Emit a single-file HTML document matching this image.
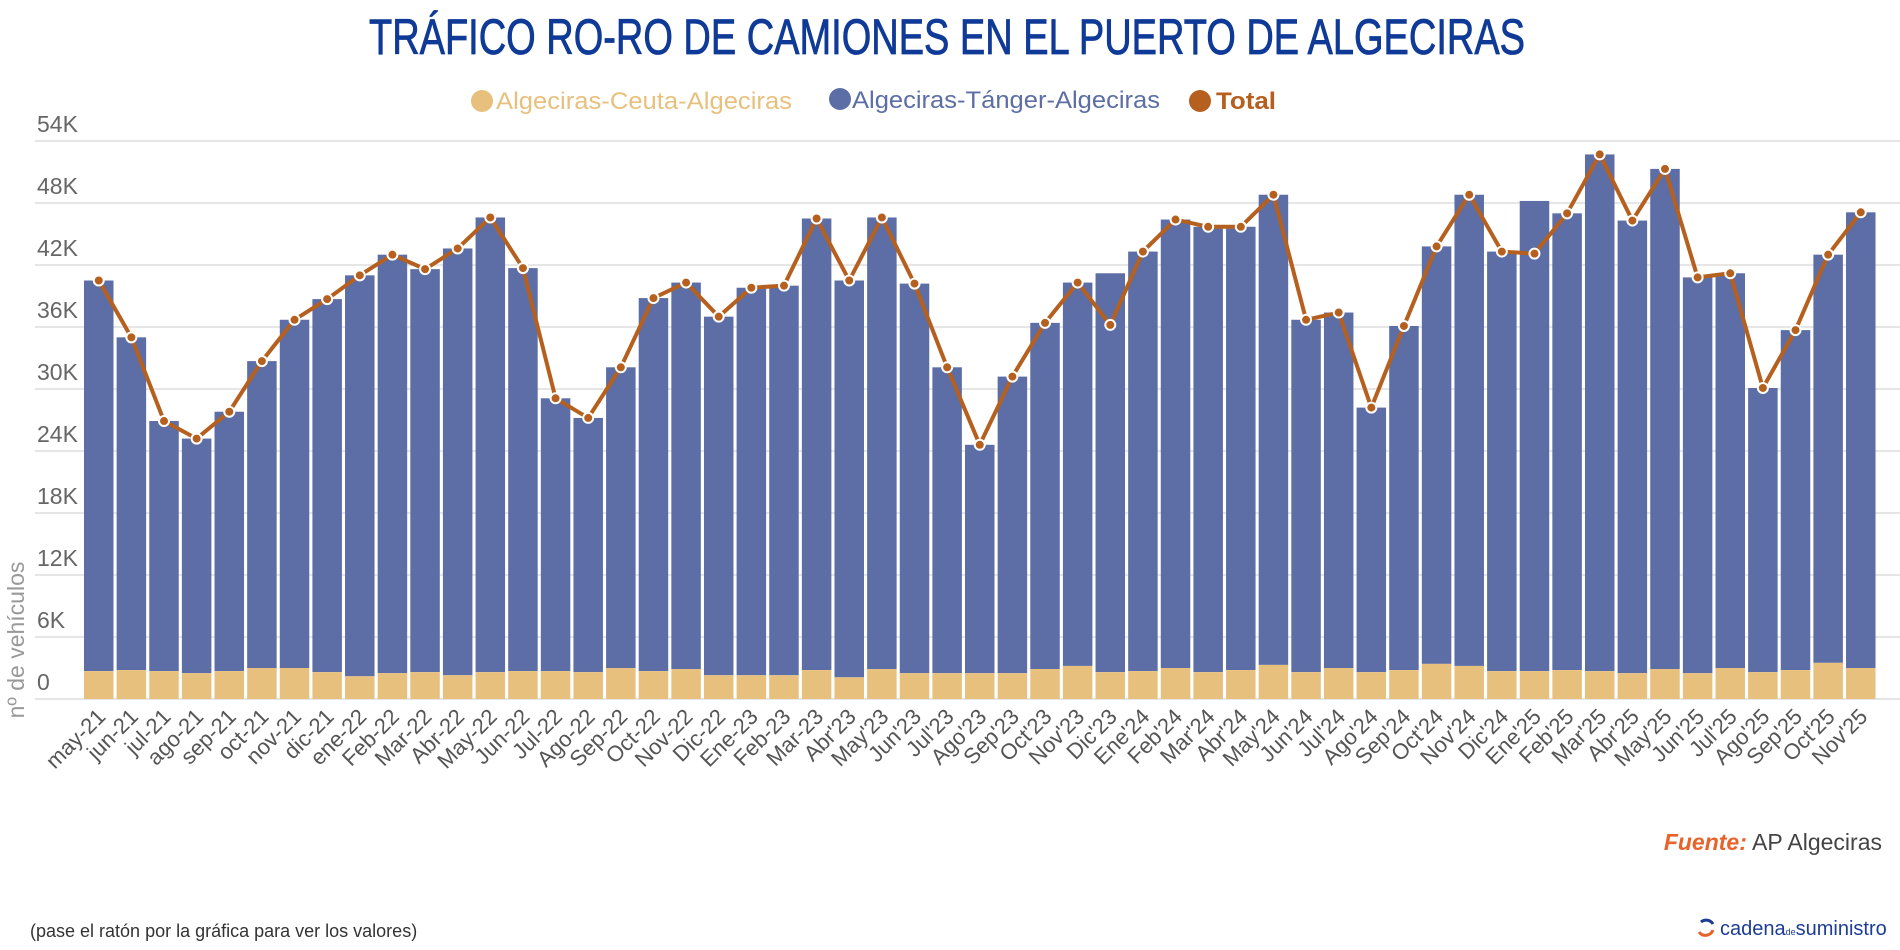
<!DOCTYPE html>
<html><head><meta charset="utf-8"><style>
html,body{margin:0;padding:0;background:#fff;}
svg{display:block;}
</style></head><body>
<svg width="1900" height="950" xmlns="http://www.w3.org/2000/svg" font-family="Liberation Sans, sans-serif">
<text x="947" y="54" text-anchor="middle" font-family="Liberation Sans Narrow, Liberation Sans, sans-serif" font-size="50" fill="#0f3a97" stroke="#0f3a97" stroke-width="0.8" textLength="1156" lengthAdjust="spacingAndGlyphs">TRÁFICO RO-RO DE CAMIONES EN EL PUERTO DE ALGECIRAS</text>
<g font-size="24" font-family="Liberation Sans Narrow, Liberation Sans, sans-serif">
<circle cx="482" cy="101" r="11" fill="#e8c07d"/><text x="496" y="109" fill="#e8c07d" textLength="296" lengthAdjust="spacingAndGlyphs">Algeciras-Ceuta-Algeciras</text>
<circle cx="840" cy="99" r="11" fill="#5c6ea5"/><text x="852" y="108" fill="#5c6ea5" textLength="308" lengthAdjust="spacingAndGlyphs">Algeciras-Tánger-Algeciras</text>
<circle cx="1200" cy="101" r="11" fill="#b5601e"/><text x="1216" y="109" fill="#b5601e" font-weight="bold" textLength="60" lengthAdjust="spacingAndGlyphs">Total</text>
</g>
<g id="grid" stroke="#dedede" stroke-width="1.5"></g>
<g id="ylab" font-size="23" fill="#666"></g>
<text transform="translate(24,640) rotate(-90)" text-anchor="middle" font-size="23" fill="#999">nº de vehículos</text>
<g id="bars"></g>
<g id="line"></g>
<g id="xlab" font-size="22" fill="#555"></g>
<text x="1882" y="850" text-anchor="end" font-size="23"><tspan fill="#e8622a" font-style="italic" font-weight="bold">Fuente:</tspan><tspan fill="#444"> AP Algeciras</tspan></text>
<text x="30" y="937" font-size="18" fill="#333">(pase el ratón por la gráfica para ver los valores)</text>
<g transform="translate(1705,928)"><path d="M-4,-6 A8,8 0 0 1 8,-4" stroke="#1d3c96" stroke-width="3" fill="none"/><path d="M8,2 A8,8 0 0 1 -6,4" stroke="#e8622a" stroke-width="3" fill="none"/></g>
<text x="1720" y="935" font-size="20" fill="#1d3c96">cadena<tspan font-size="9">de</tspan>suministro</text>
</svg>
<script>
const NS="http://www.w3.org/2000/svg";
function el(p,t,a,txt){const e=document.createElementNS(NS,t);for(const k in a)e.setAttribute(k,a[k]);if(txt!=null)e.textContent=txt;document.getElementById(p).appendChild(e);return e;}
const Y=v=>699-v/6000*62;
for(let i=0;i<=9;i++){const y=Y(i*6000);el('grid','line',{x1:35,x2:1900,y1:y,y2:y});el('ylab','text',{x:37,y:y-9},i==0?'0':(i*6)+'K');}
const labels=["may-21","jun-21","jul-21","ago-21","sep-21","oct-21","nov-21","dic-21","ene-22","Feb-22","Mar-22","Abr-22","May-22","Jun-22","Jul-22","Ago-22","Sep-22","Oct-22","Nov-22","Dic-22","Ene-23","Feb-23","Mar-23","Abr'23","May'23","Jun'23","Jul'23","Ago'23","Sep'23","Oct'23","Nov'23","Dic'23","Ene'24","Feb'24","Mar'24","Abr'24","May'24","Jun'24","Jul'24","Ago'24","Sep'24","Oct'24","Nov'24","Dic'24","Ene'25","Feb'25","Mar'25","Abr'25","May'25","Jun'25","Jul'25","Ago'25","Sep'25","Oct'25","Nov'25"];
const tot=[40.5,35.0,26.9,25.2,27.8,32.7,36.7,38.7,41.0,43.0,41.6,43.6,46.6,41.7,29.1,27.2,32.1,38.8,40.3,37.0,39.8,40.0,46.5,40.5,46.6,40.2,32.1,24.6,31.2,36.4,40.3,36.2,43.3,46.4,45.7,45.7,48.8,36.7,37.4,28.2,36.1,43.8,48.8,43.3,43.1,47.0,52.7,46.3,51.3,40.8,41.2,30.1,35.7,43.0,47.1];
const bar=tot.slice();bar[31]=41.2;bar[44]=48.2;
const ce=[2.7,2.8,2.7,2.5,2.7,3.0,3.0,2.6,2.2,2.5,2.6,2.3,2.6,2.7,2.7,2.6,3.0,2.7,2.9,2.3,2.3,2.3,2.8,2.1,2.9,2.5,2.5,2.5,2.5,2.9,3.2,2.6,2.7,3.0,2.6,2.8,3.3,2.6,3.0,2.6,2.8,3.4,3.2,2.7,2.7,2.8,2.7,2.5,2.9,2.5,3.0,2.6,2.8,3.5,3.0];
const P=32.63,W=29.5,X0=84;let pts=[];
tot.forEach((t,i)=>{const x=X0+i*P,cx=x+W/2;
el('bars','rect',{x:x,y:Y(bar[i]*1000),width:W,height:Y(ce[i]*1000)-Y(bar[i]*1000),fill:'#5c6ea5'});
el('bars','rect',{x:x,y:Y(ce[i]*1000),width:W,height:699-Y(ce[i]*1000),fill:'#e8c07d'});
pts.push(cx+','+Y(t*1000));
el('xlab','text',{x:cx+8,y:718,'text-anchor':'end',transform:`rotate(-45 ${cx+8} 718)`},labels[i]);});
el('line','polyline',{points:pts.join(' '),fill:'none',stroke:'#b5601e','stroke-width':4,'stroke-linejoin':'round'});
pts.forEach(p=>{const [x,y]=p.split(',');el('line','circle',{cx:x,cy:y,r:5,fill:'#b5601e',stroke:'#fff','stroke-width':2});});
</script>
</body></html>
